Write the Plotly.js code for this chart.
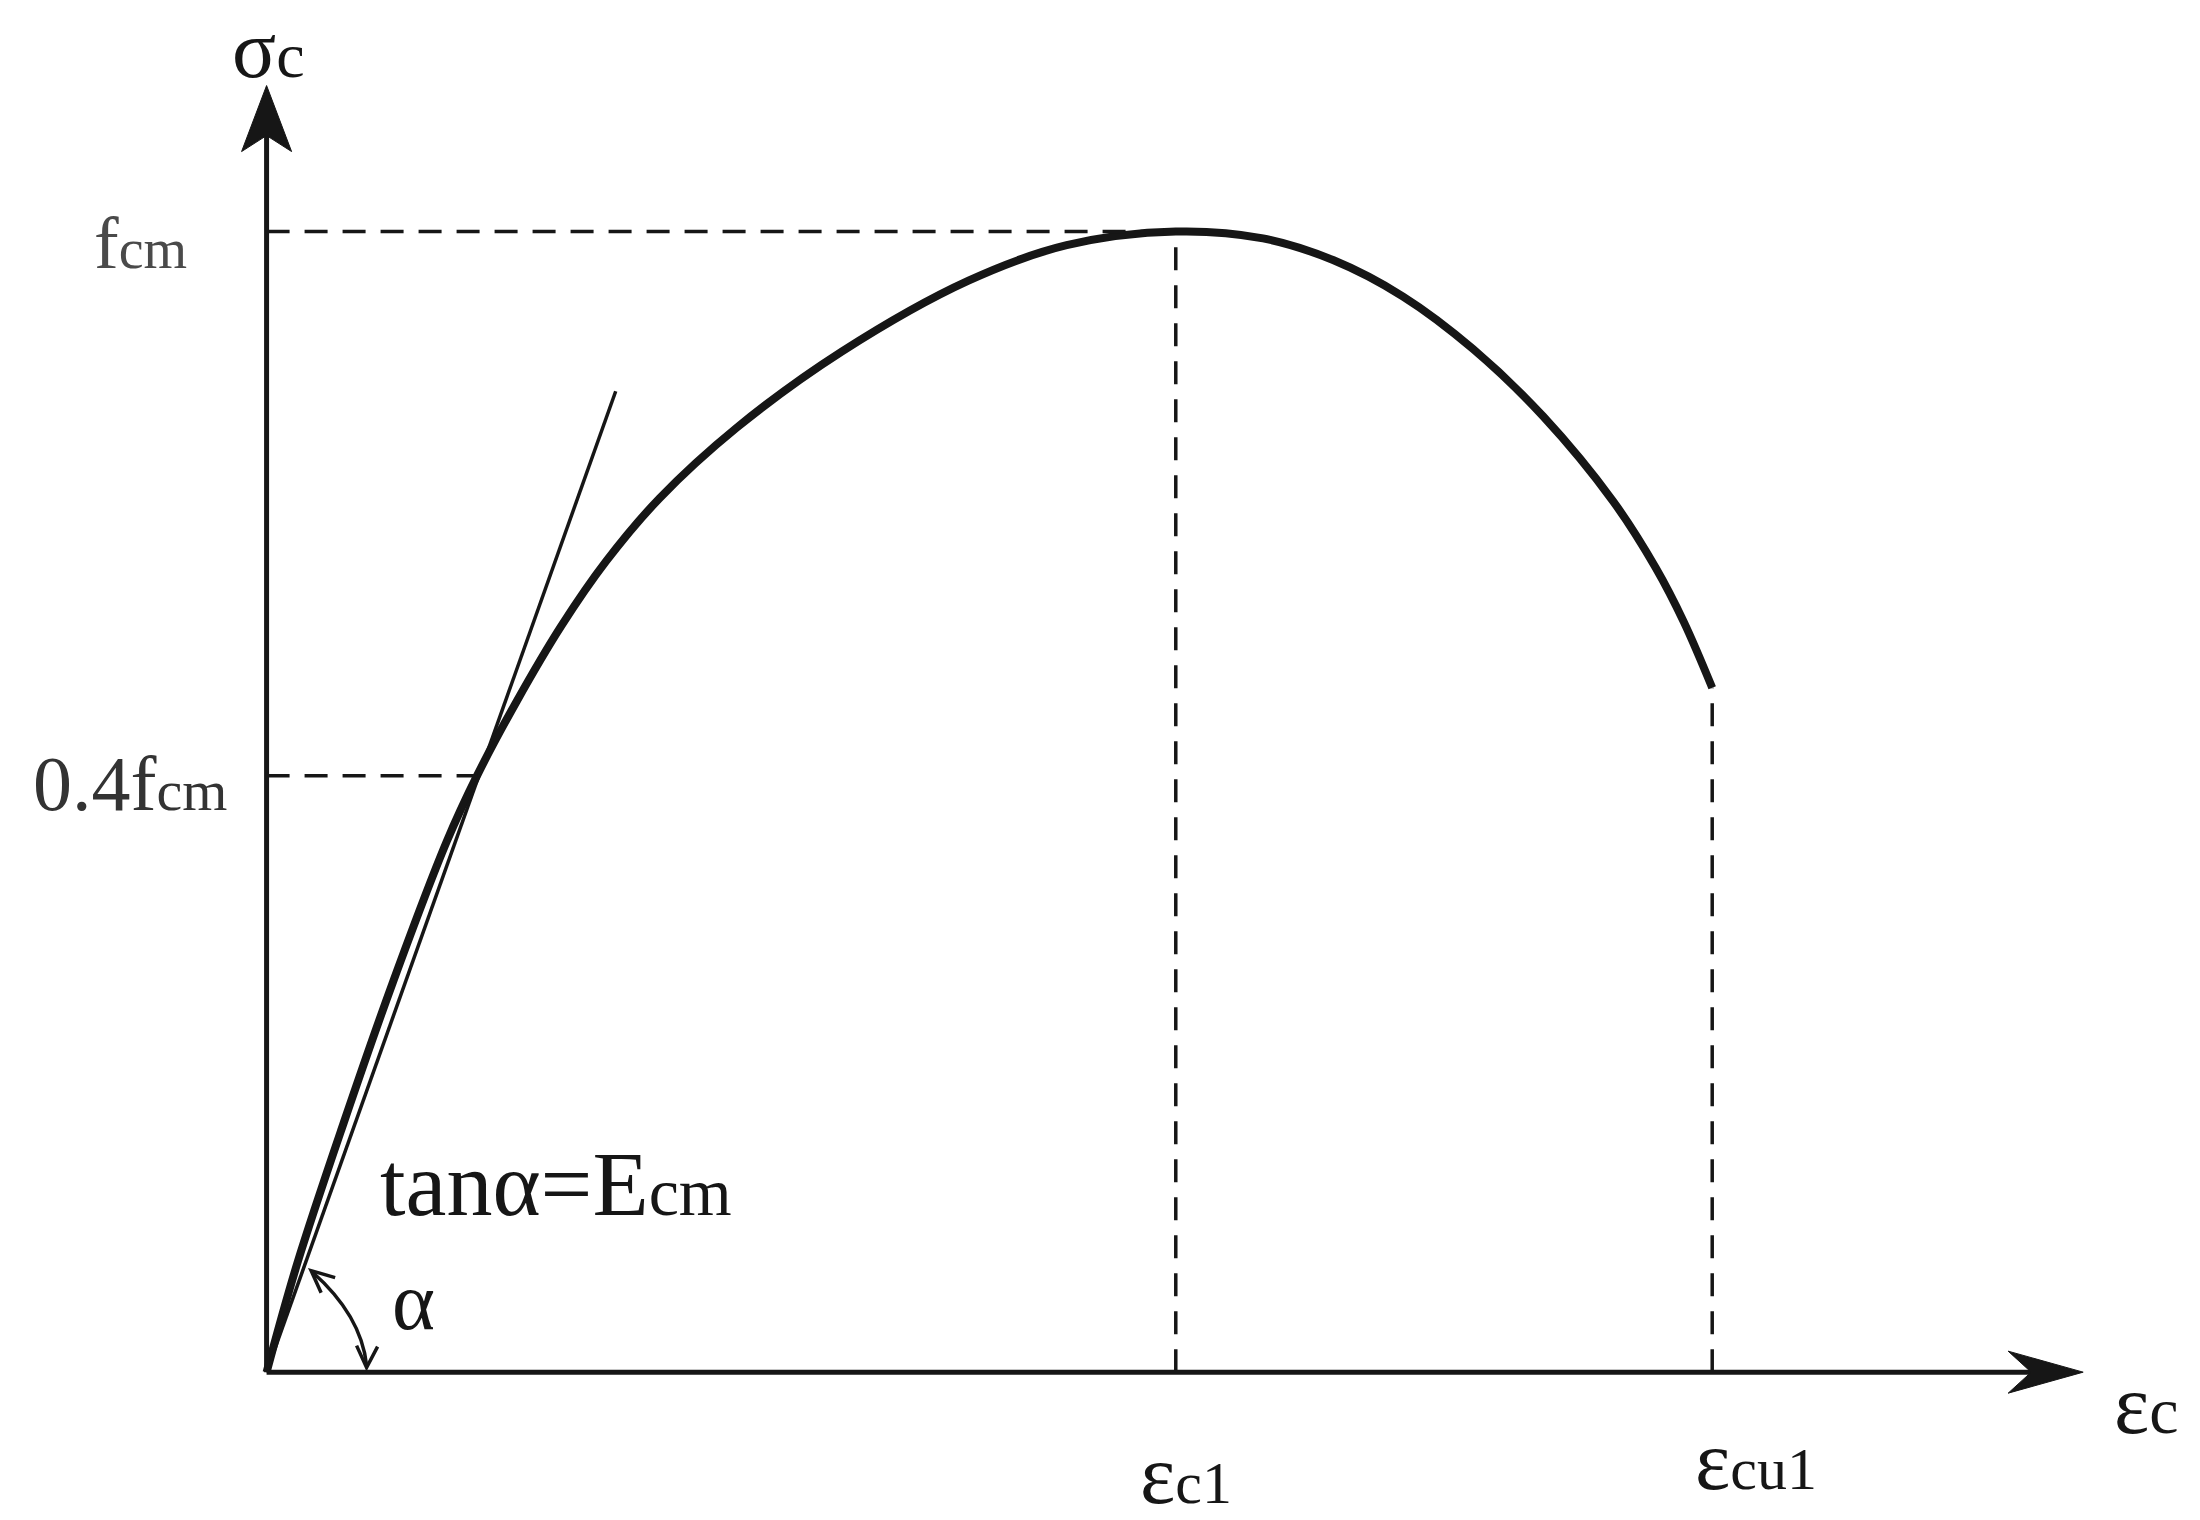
<!DOCTYPE html>
<html>
<head>
<meta charset="utf-8">
<script src="https://cdn.plot.ly/plotly-3.0.1.min.js"></script>
<style>html,body{margin:0;padding:0;background:#fff;}#chart{width:2200px;height:1520px;}</style>
</head>
<body>
<div id="chart"></div>
<script>
// Stress-strain curve (strain in units of eps_c1, stress in units of f_cm, as drawn)
const strain = [0, 0.034, 0.085, 0.139, 0.198, 0.2315, 0.275, 0.324, 0.3735, 0.432, 0.517, 0.633, 0.772, 0.880, 1.0, 1.096, 1.173, 1.250, 1.327, 1.404, 1.4815, 1.528, 1.5586, 1.590];
const stress = [0, 0.096, 0.219, 0.342, 0.465, 0.523, 0.588, 0.654, 0.711, 0.766, 0.828, 0.895, 0.957, 0.988, 1.0, 0.994, 0.975, 0.943, 0.897, 0.838, 0.763, 0.705, 0.658, 0.600];
// Tangent (secant) line, slope Ecm
const tangentX = [0, 0.384];
const tangentY = [0, 0.860];
// Key levels
const epsC1 = 1.0;
const epsCu1 = 1.590;
const stressAtCu1 = 0.600;
const fcmLevel = 1.0;
const fcm04Level = 0.523;
const fcm04Strain = 0.2315;
// Axis arrow extents
const xAxisEnd = 1.998;
const yAxisEnd = 1.128;

const serif = 'Liberation Serif, Times New Roman, serif';
const small = (s, sz) => '<span style="font-size:' + sz + 'px">' + s + '</span>';
const ink = '#161616';

const traces = [
  {x: strain, y: stress, mode: 'lines', line: {color: ink, width: 8, shape: 'spline', smoothing: 1.0}, hoverinfo: 'skip'},
  {x: tangentX, y: tangentY, mode: 'lines', line: {color: ink, width: 3.5}, hoverinfo: 'skip'}
];

const dash = {color: ink, width: 3.5, dash: '23px,15px'};
const axisLine = {color: ink, width: 5};
const px = (xa, ya, path, line, fill) => ({type: 'path', xref: 'x', yref: 'y', xsizemode: 'pixel', ysizemode: 'pixel',
  xanchor: xa, yanchor: ya, path: path, line: line, fillcolor: fill || 'rgba(0,0,0,0)'});

const shapes = [
  {type: 'line', xref: 'x', yref: 'y', x0: 0, y0: fcmLevel, x1: epsC1, y1: fcmLevel, line: dash},
  {type: 'line', xref: 'x', yref: 'y', x0: 0, y0: fcm04Level, x1: fcm04Strain, y1: fcm04Level, line: dash},
  {type: 'line', xref: 'x', yref: 'y', x0: epsC1, y0: 0, x1: epsC1, y1: fcmLevel, line: dash},
  {type: 'line', xref: 'x', yref: 'y', x0: epsCu1, y0: 0, x1: epsCu1, y1: stressAtCu1, line: dash},
  // axes
  {type: 'line', xref: 'x', yref: 'y', x0: 0, y0: 0, x1: xAxisEnd - 0.04, y1: 0, line: axisLine},
  {type: 'line', xref: 'x', yref: 'y', x0: 0, y0: 0, x1: 0, y1: yAxisEnd - 0.04, line: axisLine},
  // axis arrowheads (barbed)
  px(xAxisEnd, 0, 'M 0 0 L -75 21 L -52 0 L -75 -21 Z', {color: ink, width: 1}, ink),
  px(0, yAxisEnd, 'M 0 0 L 25 -66 L 0 -50 L -25 -66 Z', {color: ink, width: 1}, ink),
  // alpha arc
  {type: 'path', xref: 'x', yref: 'y', path: 'M 0.050 0.088 Q 0.104 0.050 0.110 0.006', line: {color: ink, width: 3.5}},
  // alpha arc arrowheads (open V)
  px(0.110, 0.004, 'M -10 22 L 0 0 L 11 21', {color: ink, width: 3.5}),
  px(0.049, 0.089, 'M 24 -7 L 0 0 L 10 -22', {color: ink, width: 3.5})
];

const txt = (x, y, text, size, color) => ({x: x, y: y, xref: 'x', yref: 'y', text: text, showarrow: false,
  font: {family: serif, size: size, color: color || ink}, xanchor: 'center', yanchor: 'middle'});

const annotations = [
  txt(0.002, 1.160, 'σ' + small('c', 64), 82),
  txt(-0.139, 0.990, 'f' + small('cm', 56), 74, '#4a4a4a'),
  txt(-0.150, 0.516, '0.4f' + small('cm', 58), 78, '#333'),
  txt(0.318, 0.165, 'tanα=E' + small('cm', 68), 92),
  txt(0.162, 0.062, 'α', 82),
  txt(2.068, -0.028, 'ε' + small('c', 66), 84),
  txt(1.011, -0.090, 'ε' + small('c1', 60), 84),
  txt(1.638, -0.077, 'ε' + small('cu1', 60), 84)
];

const layout = {
  width: 2200, height: 1520,
  margin: {l: 0, r: 0, t: 0, b: 0},
  paper_bgcolor: '#fff', plot_bgcolor: '#fff',
  showlegend: false,
  xaxis: {range: [-0.2932, 2.1265], visible: false, fixedrange: true},
  yaxis: {range: [-0.1296, 1.2030], visible: false, fixedrange: true},
  shapes: shapes,
  annotations: annotations
};

Plotly.newPlot('chart', traces, layout, {displayModeBar: false, staticPlot: true});
</script>
</body>
</html>
